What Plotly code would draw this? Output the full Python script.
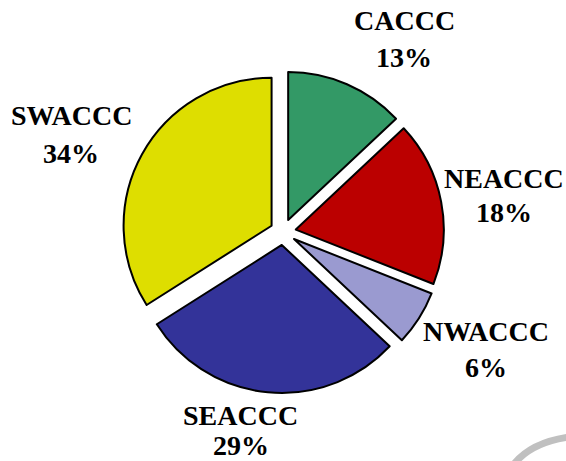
import plotly.graph_objects as go

# ---- data ----
regions = ["CACCC", "NEACCC", "NWACCC", "SEACCC", "SWACCC"]
shares = [13, 18, 6, 29, 34]
slice_colors = ["#339966", "#bb0000", "#9a9ad0", "#333399", "#dede00"]

# ---- layout helpers ----
W, H = 566, 461
cx, cy, R, pull = 283, 232, 148, 0.088
half = R * (1 + pull)
dom_x = [(cx - half) / W, (cx + half) / W]
dom_y = [1 - (cy + half) / H, 1 - (cy - half) / H]

# label positions in pixels: x centre, y of name line, y of percent line
label_x = [404, 504, 486, 241, 71]
name_y = [20, 177, 330, 414, 114]
pct_y = [57, 211, 366, 444, 152]

fig = go.Figure(go.Pie(
    labels=regions,
    values=shares,
    sort=False,
    direction="clockwise",
    rotation=0,
    pull=[pull] * len(shares),
    marker=dict(colors=slice_colors, line=dict(color="black", width=2)),
    textinfo="none",
    hoverinfo="label+percent",
    domain=dict(x=dom_x, y=dom_y),
    showlegend=False,
))

font = dict(family="Liberation Serif, Times New Roman, serif", size=28, color="black")
annotations = []
for name, val, px, ny, py in zip(regions, shares, label_x, name_y, pct_y):
    for txt, yy in ((name, ny), (f"{val}%", py)):
        annotations.append(dict(
            x=px / W, y=1 - (yy + 1) / H, xref="paper", yref="paper",
            xanchor="center", yanchor="middle", showarrow=False,
            text=f"<b>{txt}</b>", font=font,
        ))

# decorative grey arc in bottom-right corner
arc = "M {:.4f},{:.4f} Q {:.4f},{:.4f} {:.4f},{:.4f}".format(
    514 / W, 1 - 464 / H, 532 / W, 1 - 442 / H, 570 / W, 1 - 437 / H)

fig.update_layout(
    width=W, height=H,
    margin=dict(l=0, r=0, t=0, b=0),
    paper_bgcolor="white", plot_bgcolor="white",
    annotations=annotations,
    shapes=[dict(type="path", path=arc, xref="paper", yref="paper",
                 line=dict(color="#c0c0c0", width=7))],
)

fig.write_html("out.html",
               config={"displayModeBar": False},
               post_script="document.body.style.margin='0px';document.body.style.overflow='hidden';")
